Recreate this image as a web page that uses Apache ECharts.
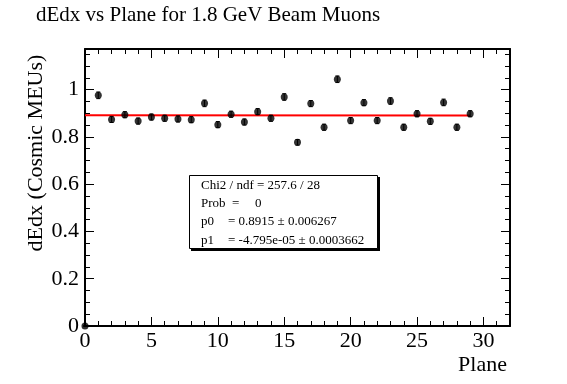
<!DOCTYPE html>
<html><head><meta charset="utf-8">
<script src="https://cdn.jsdelivr.net/npm/echarts@6/dist/echarts.min.js"></script>
<style>html,body{margin:0;padding:0;background:#fff}#c{width:567px;height:384px}</style>
</head><body><div id="c"></div><script>
// ---- data ----
const planes = [0,1,2,3,4,5,6,7,8,9,10,11,12,13,14,15,16,17,18,19,20,21,22,23,24,25,26,27,28,29];
const dedx   = [0,0.976,0.874,0.894,0.867,0.884,0.879,0.876,0.873,0.942,0.852,0.896,0.863,0.907,0.879,0.969,0.777,0.941,0.841,1.044,0.869,0.945,0.869,0.952,0.841,0.898,0.866,0.946,0.841,0.898];
const errs   = [0,0.014,0.013,0.013,0.013,0.013,0.013,0.013,0.013,0.014,0.013,0.013,0.013,0.013,0.013,0.014,0.012,0.013,0.013,0.014,0.013,0.013,0.013,0.014,0.013,0.013,0.013,0.014,0.013,0.013];
const fitP0 = 0.8915, fitP1 = -4.795e-05;
const fitRange = [0, 29];
const titleText = 'dEdx vs Plane for 1.8 GeV Beam Muons';
const xName = 'Plane', yName = 'dEdx (Cosmic MEUs)';
const statsLines = [
  ['Chi2 / ndf = 257.6 / 28', ''],
  ['Prob  =', '0'],
  ['p0', '= 0.8915 \u00b1 0.006267'],
  ['p1', '= -4.795e-05 \u00b1 0.0003662']
];
const X_MIN = 0, X_MAX = 32, Y_MIN = 0, Y_MAX = 1.172;

const FONT = '"Liberation Serif", "Times New Roman", serif';
const chart = echarts.init(document.getElementById('c'), null, {renderer: 'canvas'});

function xAx(pos, interval, len, labels, line) {
  return {
    type: 'value', position: pos, min: X_MIN, max: X_MAX, interval: interval,
    axisLine: {show: line, onZero: false, lineStyle: {color: '#000', width: 2}},
    axisTick: {show: true, inside: true, length: len, lineStyle: {color: '#000', width: 1}},
    axisLabel: labels ? {show: true, showMaxLabel: false, color: '#000', fontFamily: FONT, fontSize: 22, margin: 4} : {show: false},
    splitLine: {show: false}
  };
}
function yAx(pos, interval, len, labels, line) {
  return {
    type: 'value', position: pos, min: Y_MIN, max: Y_MAX, interval: interval,
    axisLine: {show: line, onZero: false, lineStyle: {color: '#000', width: 2}},
    axisTick: {show: true, inside: true, length: len, lineStyle: {color: '#000', width: 1}},
    axisLabel: labels ? {show: true, showMaxLabel: false, color: '#000', fontFamily: FONT, fontSize: 22, margin: 6,
      formatter: v => String(Math.round(v * 10) / 10)} : {show: false},
    splitLine: {show: false}
  };
}

const points = planes.map((p, i) => [p, dedx[i], errs[i]]);
const fitData = fitRange.map(x => [x, fitP0 + fitP1 * x]);

const graphics = [
  {type: 'text', left: 36, top: 5, style: {text: titleText, font: '21px ' + FONT, fill: '#000'}},
  {type: 'text', x: 36, y: 153, rotation: Math.PI / 2,
   style: {text: yName, font: '22px ' + FONT, fill: '#000', align: 'center', verticalAlign: 'middle'}},
  {type: 'text', x: 507, y: 365, style: {text: xName, font: '22px ' + FONT, fill: '#000', align: 'right', verticalAlign: 'middle'}},
  {type: 'rect', shape: {x: 191, y: 177, width: 189, height: 74}, style: {fill: '#000'}, z: 10},
  {type: 'rect', shape: {x: 189.5, y: 175.5, width: 188, height: 73}, style: {fill: '#fff', stroke: '#000', lineWidth: 1}, z: 11}
];
const lineY = [186, 204, 222, 241];
statsLines.forEach((l, i) => {
  graphics.push({type: 'text', x: 201, y: lineY[i], z: 12,
    style: {text: l[0], font: '13px ' + FONT, fill: '#000', verticalAlign: 'middle'}});
  if (l[1]) {
    graphics.push({type: 'text', x: i === 1 ? 255 : 228, y: lineY[i], z: 12,
      style: {text: l[1], font: '13px ' + FONT, fill: '#000', verticalAlign: 'middle'}});
  }
});

chart.setOption({
  animation: false,
  backgroundColor: '#fff',
  grid: {left: 85, right: 57, top: 49, bottom: 58, containLabel: false, outerBoundsMode: 'none'},
  xAxis: [
    xAx('bottom', 5, 9, true, true),
    xAx('bottom', 1, 5, false, false),
    xAx('top', 5, 9, false, true),
    xAx('top', 1, 5, false, false)
  ],
  yAxis: [
    yAx('left', 0.2, 9, true, true),
    yAx('left', 0.05, 5, false, false),
    yAx('right', 0.2, 9, false, true),
    yAx('right', 0.05, 5, false, false)
  ],
  graphic: graphics,
  series: [
    {
      type: 'line', data: fitData, xAxisIndex: 0, yAxisIndex: 0, symbol: 'none',
      lineStyle: {color: '#ff0000', width: 2}, z: 3
    },
    {
      type: 'custom', data: points, xAxisIndex: 0, yAxisIndex: 0, z: 4,
      renderItem: function (params, api) {
        const x = api.value(0), y = api.value(1), e = api.value(2);
        const top = api.coord([x, y + e]), bot = api.coord([x, y - e]);
        const cap = 2;
        return {type: 'group', children: [
          {type: 'line', shape: {x1: top[0], y1: top[1], x2: bot[0], y2: bot[1]}, style: {stroke: '#000', lineWidth: 1}},
          {type: 'line', shape: {x1: top[0] - cap, y1: top[1], x2: top[0] + cap, y2: top[1]}, style: {stroke: '#000', lineWidth: 1}},
          {type: 'line', shape: {x1: bot[0] - cap, y1: bot[1], x2: bot[0] + cap, y2: bot[1]}, style: {stroke: '#000', lineWidth: 1}}
        ]};
      }
    },
    {
      type: 'scatter', data: points.map(p => [p[0], p[1]]), xAxisIndex: 0, yAxisIndex: 0,
      symbol: 'circle', symbolSize: 7, itemStyle: {color: '#000'}, z: 5
    }
  ]
});
</script></body></html>
